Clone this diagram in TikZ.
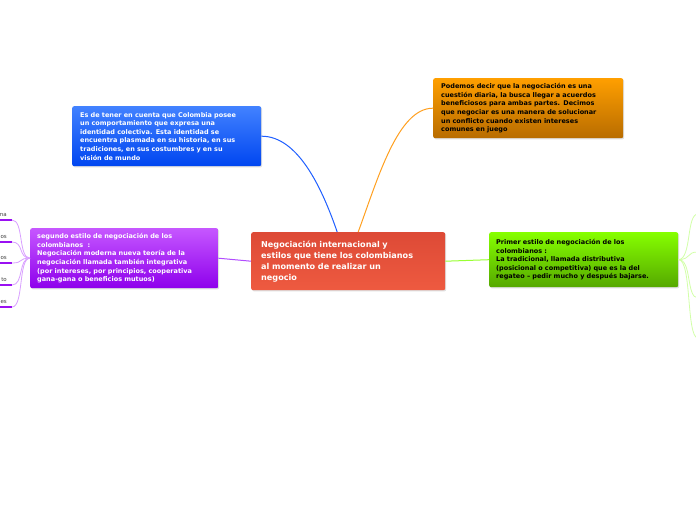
\documentclass[tikz,border=0pt]{standalone}
\usepackage{fontspec}
\setmainfont{DejaVu Sans}
\usetikzlibrary{shadows}
\definecolor{bluetop}{HTML}{4282FF}
\definecolor{bluebot}{HTML}{0046F0}
\definecolor{orangetop}{HTML}{FF9F00}
\definecolor{orangebot}{HTML}{B86C00}
\definecolor{redtop}{HTML}{DD4A36}
\definecolor{redbot}{HTML}{EE5A40}
\definecolor{greentop}{HTML}{86FF00}
\definecolor{greenbot}{HTML}{55A800}
\definecolor{purpletop}{HTML}{C657FF}
\definecolor{purplebot}{HTML}{8E00EC}
\definecolor{blueline}{HTML}{1F5FFF}
\definecolor{orangeline}{HTML}{FFA020}
\definecolor{purpleline}{HTML}{B24CFF}
\definecolor{greenline}{HTML}{99FF33}
\definecolor{fanpurple}{HTML}{D9A0FF}
\definecolor{fangreen}{HTML}{D2FFA8}
\definecolor{underpurple}{HTML}{9A10F2}
\tikzset{
  topic/.style={rounded corners=2pt, anchor=north west, align=left,
    inner xsep=8pt, inner ysep=2pt, font=\bfseries,
    drop shadow={opacity=0.25, shadow xshift=1pt, shadow yshift=-1.2pt}},
  smalltxt/.style={font=\fontsize{6.5}{8.6}\selectfont\bfseries},
  bigtxt/.style={font=\fontsize{8.1}{11}\selectfont\bfseries},
  leaf/.style={anchor=south east, inner sep=0pt, text=black!75,
    font=\fontsize{5.5}{6}\selectfont},
  underl/.style={underpurple, line width=2pt},
  fanL/.style={fanpurple, line width=0.8pt},
  fanR/.style={fangreen, line width=0.8pt}
}
\begin{document}
\begin{tikzpicture}[x=1pt,y=-1pt]
\useasboundingbox (0,0) rectangle (696,520);
\clip (0,0) rectangle (696,520);
\fill[white] (0,0) rectangle (696,520);

% topic boxes
\node[topic, smalltxt, text=white, top color=bluetop, bottom color=bluebot,
  minimum width=189pt, minimum height=60pt, text width=173pt] (blue) at (72,106)
  {Es de tener en cuenta que Colombia posee\\un comportamiento que expresa una\\identidad colectiva. Esta identidad se\\encuentra plasmada en su historia, en sus\\tradiciones, en sus costumbres y en su\\visión de mundo};

\node[topic, smalltxt, text=black, top color=orangetop, bottom color=orangebot,
  minimum width=190pt, minimum height=60pt, text width=174pt] (orange) at (433,78)
  {Podemos decir que la negociación es una\\cuestión diaria, la busca llegar a acuerdos\\beneficiosos para ambas partes. Decimos\\que negociar es una manera de solucionar\\un conflicto cuando existen intereses\\comunes en juego};

\node[topic, bigtxt, text=white, top color=redtop, bottom color=redbot,
  inner xsep=10pt, minimum width=194pt, minimum height=58pt, text width=174pt] (center) at (251,232)
  {Negociación internacional y\\estilos que tiene los colombianos\\al momento de realizar un\\negocio};

\node[topic, smalltxt, text=black, top color=greentop, bottom color=greenbot,
  inner xsep=7pt, minimum width=189pt, minimum height=55pt, text width=175pt] (green) at (489,232)
  {Primer estilo de negociación de los\\colombianos :\\La tradicional, llamada distributiva\\(posicional o competitiva) que es la del\\regateo – pedir mucho y después bajarse.};

\node[topic, smalltxt, text=white, top color=purpletop, bottom color=purplebot,
  inner xsep=7pt, minimum width=188pt, minimum height=60pt, text width=174pt] (purple) at (30,228)
  {segundo estilo de negociación de los\\colombianos~~:\\Negociación moderna nueva teoría de la\\negociación llamada también integrativa\\(por intereses, por principios, cooperativa\\gana-gana o beneficios mutuos)};

% main connectors
\draw[blueline, line width=1pt] (blue.east) .. controls (298,136) and (322,188) .. ([xshift=-11pt]center.north);
\draw[orangeline, line width=1pt] ([xshift=10pt]center.north) .. controls (378,178) and (398,108) .. (orange.west);
\draw[purpleline, line width=1pt] (center.west) -- (purple.east);
\draw[greenline, line width=1pt] (center.east) -- (green.west);

% left leaves (off-canvas)
\foreach \i/\y/\t in {1/220/na,2/242/os,3/263/os,4/285/to,5/307/es}{
  \node[leaf] (l\i) at (7,\y-3) {\t};
  \coordinate (e\i) at (12,\y);
  \draw[underl] (e\i) -- (-2,\y);
  \draw[fanL] (purple.west) .. controls (18,258) and (24,\y) .. (e\i);
}

% right leaves (off-canvas)
\foreach \i/\y in {1/214,2/252,3/298,4/338}{
  \coordinate (r\i) at (698,\y);
  \draw[fanR] (green.east) .. controls (692,259) and (686,\y) .. (r\i);
}
\end{tikzpicture}
\end{document}
